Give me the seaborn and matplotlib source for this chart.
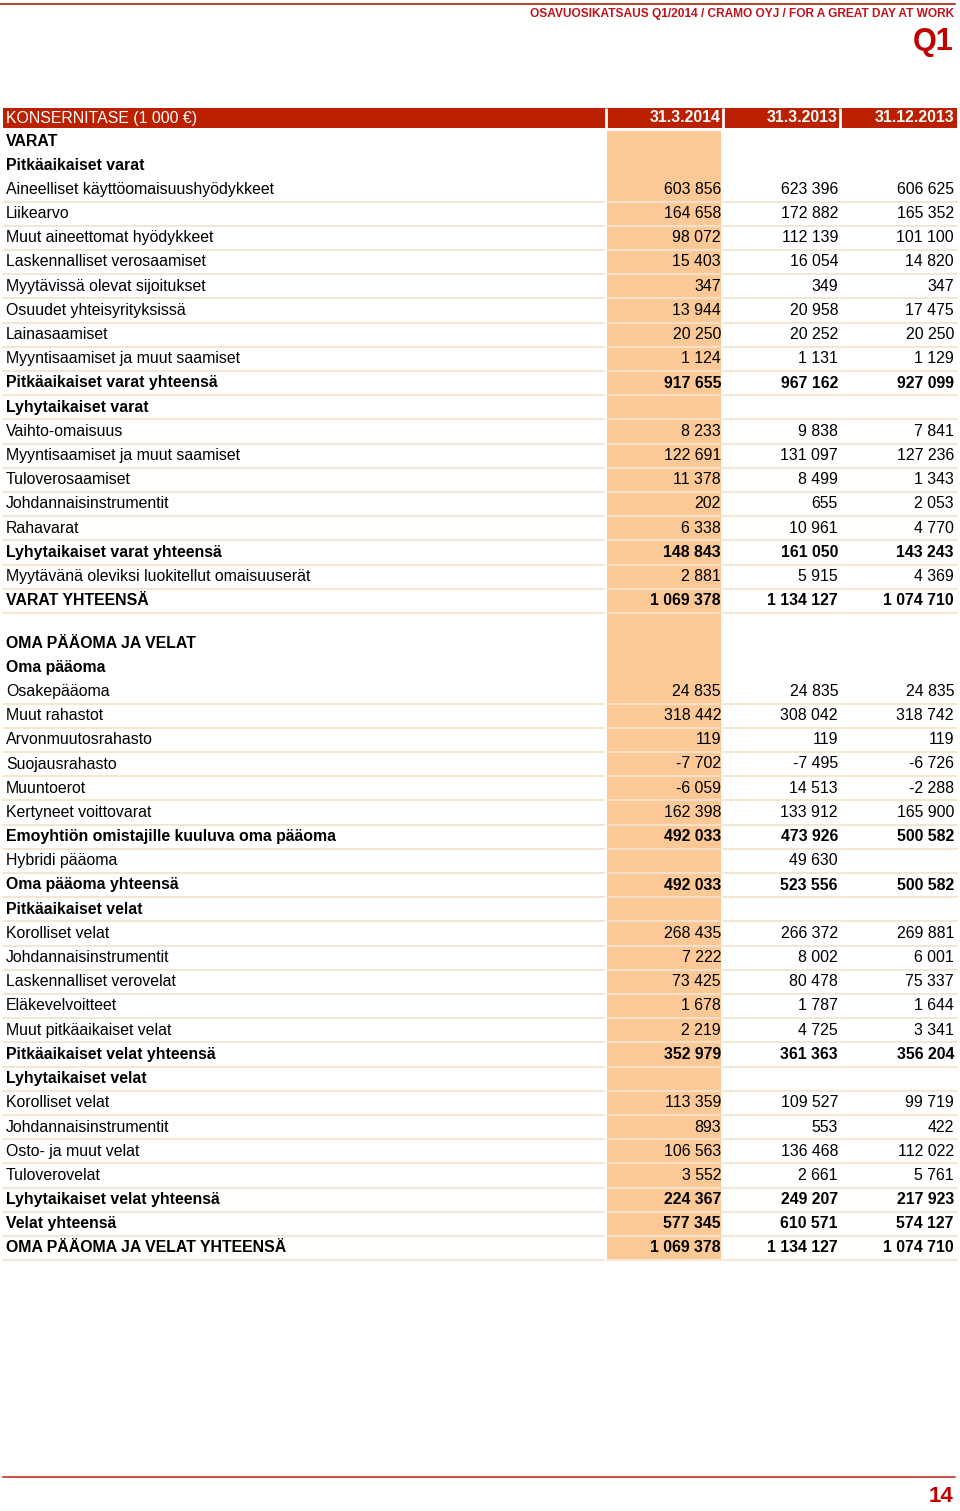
import numpy as np
import pandas as pd
import seaborn as sns
import matplotlib.pyplot as plt
from matplotlib.colors import ListedColormap
from matplotlib.patches import Rectangle

sns.set_theme(style='white')
plt.rcParams['font.family'] = ['Liberation Sans', 'DejaVu Sans']

# balance sheet rows (1 000 EUR)
labels = [
    'VARAT', 'Pitkäaikaiset varat', 'Aineelliset käyttöomaisuushyödykkeet', 'Liikearvo',
    'Muut aineettomat hyödykkeet', 'Laskennalliset verosaamiset', 'Myytävissä olevat sijoitukset',
    'Osuudet yhteisyrityksissä', 'Lainasaamiset', 'Myyntisaamiset ja muut saamiset',
    'Pitkäaikaiset varat yhteensä', 'Lyhytaikaiset varat', 'Vaihto-omaisuus',
    'Myyntisaamiset ja muut saamiset', 'Tuloverosaamiset', 'Johdannaisinstrumentit', 'Rahavarat',
    'Lyhytaikaiset varat yhteensä', 'Myytävänä oleviksi luokitellut omaisuuserät', 'VARAT YHTEENSÄ',
    'OMA PÄÄOMA JA VELAT', 'Oma pääoma', 'Osakepääoma', 'Muut rahastot', 'Arvonmuutosrahasto',
    'Suojausrahasto', 'Muuntoerot', 'Kertyneet voittovarat',
    'Emoyhtiön omistajille kuuluva oma pääoma', 'Hybridi pääoma', 'Oma pääoma yhteensä',
    'Pitkäaikaiset velat', 'Korolliset velat', 'Johdannaisinstrumentit', 'Laskennalliset verovelat',
    'Eläkevelvoitteet', 'Muut pitkäaikaiset velat', 'Pitkäaikaiset velat yhteensä',
    'Lyhytaikaiset velat', 'Korolliset velat', 'Johdannaisinstrumentit', 'Osto- ja muut velat',
    'Tuloverovelat', 'Lyhytaikaiset velat yhteensä', 'Velat yhteensä',
    'OMA PÄÄOMA JA VELAT YHTEENSÄ',
]
q1_2014 = [
    None, None, 603856, 164658, 98072, 15403, 347, 13944, 20250, 1124, 917655, None,
    8233, 122691, 11378, 202, 6338, 148843, 2881, 1069378,
    None, None, 24835, 318442, 119, -7702, -6059, 162398, 492033, None, 492033,
    None, 268435, 7222, 73425, 1678, 2219, 352979,
    None, 113359, 893, 106563, 3552, 224367, 577345, 1069378,
]
q1_2013 = [
    None, None, 623396, 172882, 112139, 16054, 349, 20958, 20252, 1131, 967162, None,
    9838, 131097, 8499, 655, 10961, 161050, 5915, 1134127,
    None, None, 24835, 308042, 119, -7495, 14513, 133912, 473926, 49630, 523556,
    None, 266372, 8002, 80478, 1787, 4725, 361363,
    None, 109527, 553, 136468, 2661, 249207, 610571, 1134127,
]
dec_2013 = [
    None, None, 606625, 165352, 101100, 14820, 347, 17475, 20250, 1129, 927099, None,
    7841, 127236, 1343, 2053, 4770, 143243, 4369, 1074710,
    None, None, 24835, 318742, 119, -6726, -2288, 165900, 500582, None, 500582,
    None, 269881, 6001, 75337, 1644, 3341, 356204,
    None, 99719, 422, 112022, 5761, 217923, 574127, 1074710,
]
bold_rows = [
    'VARAT', 'Pitkäaikaiset varat', 'Pitkäaikaiset varat yhteensä', 'Lyhytaikaiset varat',
    'Lyhytaikaiset varat yhteensä', 'VARAT YHTEENSÄ', 'OMA PÄÄOMA JA VELAT', 'Oma pääoma',
    'Emoyhtiön omistajille kuuluva oma pääoma', 'Oma pääoma yhteensä', 'Pitkäaikaiset velat',
    'Pitkäaikaiset velat yhteensä', 'Lyhytaikaiset velat', 'Lyhytaikaiset velat yhteensä',
    'Velat yhteensä', 'OMA PÄÄOMA JA VELAT YHTEENSÄ',
]
no_line_rows = ['VARAT', 'Pitkäaikaiset varat', 'OMA PÄÄOMA JA VELAT', 'Oma pääoma']
columns = ['31.3.2014', '31.3.2013', '31.12.2013']

red = '#bb2100'
orange = '#fcc996'
rule = '#f4e3cf'
fs = 11.4

fig = plt.figure(figsize=(9.6, 15.11), dpi=100)

# highlighted current-quarter column drawn as a one-row heatmap
hax = fig.add_axes([605 / 960, 1 - 1260 / 1511, 352 / 960, 1131 / 1511])
sns.heatmap(pd.DataFrame([[1, 0, 0]], columns=columns), cmap=ListedColormap(['white', orange]),
            vmin=0, vmax=1, cbar=False, linewidths=2, linecolor='white',
            xticklabels=False, yticklabels=False, ax=hax)

ax = fig.add_axes([0, 0, 1, 1], zorder=2)
ax.patch.set_alpha(0)
ax.set_xlim(0, 960)
ax.set_ylim(1511, 0)
ax.axis('off')

# page header
ax.plot([0, 955], [4, 4], color='#b5473a', lw=1.5)
ax.text(954, 13.5, 'OSAVUOSIKATSAUS Q1/2014 / CRAMO OYJ / FOR A GREAT DAY AT WORK',
        ha='right', va='center', color='#c0121b', fontsize=8.6, fontweight='bold')
ax.text(953, 42, 'Q1', ha='right', va='center', color='#c00000', fontsize=22, fontweight='bold')

# table header bar
ax.add_patch(Rectangle((3, 108), 954, 20, color=red, lw=0))
ax.vlines([605.5, 723, 840], 108, 128, color='white', lw=2)
ax.text(6, 118, 'KONSERNITASE (1 000 €)', ha='left', va='center', color='white',
        fontsize=fs)
col_right = [721, 838, 954]
for x, c in zip(col_right, columns):
    ax.text(x, 118, c, ha='right', va='center', color='white', fontsize=fs, fontweight='bold')

# rows
segments = [(3, 604), (607, 722), (724, 839), (841, 957)]
for i, lab in enumerate(labels):
    y = 141 + i * 24.2 + (18 if i >= 20 else 0)
    w = 'bold' if lab in bold_rows else 'normal'
    ax.text(6, y, lab, ha='left', va='center', color='black', fontsize=fs, fontweight=w)
    for x, vals in zip(col_right, [q1_2014, q1_2013, dec_2013]):
        v = vals[i]
        if v is not None:
            ax.text(x, y, f'{v:,}'.replace(',', ' '), ha='right', va='center',
                    color='black', fontsize=fs, fontweight=w)
    if lab not in no_line_rows:
        for x0, x1 in segments:
            ax.plot([x0, x1], [y + 12.1, y + 12.1], color=rule, lw=1.3)

# page footer
ax.plot([3, 955], [1477, 1477], color='#c9544a', lw=1.5)
ax.text(953, 1497, '14', ha='right', va='center', color='#c00000', fontsize=16, fontweight='bold')

fig.savefig('out.png', dpi=100)
